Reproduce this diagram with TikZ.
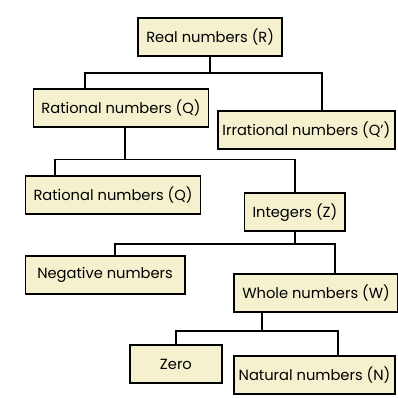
\documentclass[tikz,border=0pt]{standalone}
\usepackage{fontspec}
\setmainfont{Poppins}
\usetikzlibrary{positioning}
\definecolor{boxfill}{HTML}{F5F1CF}
\begin{document}
\begin{tikzpicture}[
        numbox/.style={rectangle, draw, line width=1.3pt, fill=boxfill, minimum height=0.95cm, inner xsep=0.2cm, font=\fontsize{10.5}{12}\selectfont},
        link/.style={line width=1.3pt}
    ]
        \useasboundingbox (0,0) rectangle (10,-9.975);

        % Number sets
        \node[numbox] (real) at (5.28,-0.93) {Real numbers (R)};
        \node[numbox] (rat1) at (3.04,-2.71) {Rational numbers (Q)};
        \node[numbox, anchor=east, inner xsep=0.12cm] (irr) at (9.95,-3.27) {Irrational numbers (Q')};
        \node[numbox] (rat2) at (2.84,-4.90) {Rational numbers (Q)};
        \node[numbox] (int) at (7.41,-5.33) {Integers (Z)};
        \node[numbox, minimum width=4cm] (neg) at (2.64,-6.91) {Negative numbers};
        \node[numbox, minimum width=4cm] (whole) at (7.94,-7.36) {Whole numbers (W)};
        \node[numbox, minimum width=2.3cm] (zero) at (4.42,-9.15) {Zero};
        \node[numbox, anchor=east, inner xsep=0.12cm] (nat) at (9.95,-9.42) {Natural numbers (N)};

        % Connect sets
        \draw[link] (real.south) -- ++(0,-0.4) -| ([xshift=-0.9cm]rat1.north);
        \draw[link] (real.south) -- ++(0,-0.4) -| ([xshift=0.4cm]irr.north);
        \draw[link] ([xshift=0.1cm]rat1.south) -- ++(0,-0.8) -| ([xshift=-1.46cm]rat2.north);
        \draw[link] ([xshift=0.1cm]rat1.south) -- ++(0,-0.8) -| (int.north);
        \draw[link] (int.south) -- ++(0,-0.3) -| ([xshift=0.25cm]neg.north);
        \draw[link] (int.south) -- ++(0,-0.3) -| ([xshift=0.48cm]whole.north);
        \draw[link] ([xshift=-1.36cm]whole.south) -- ++(0,-0.45) -| (zero.north);
        \draw[link] ([xshift=-1.36cm]whole.south) -- ++(0,-0.45) -| ([xshift=0.6cm]nat.north);
    \end{tikzpicture}
\end{document}
